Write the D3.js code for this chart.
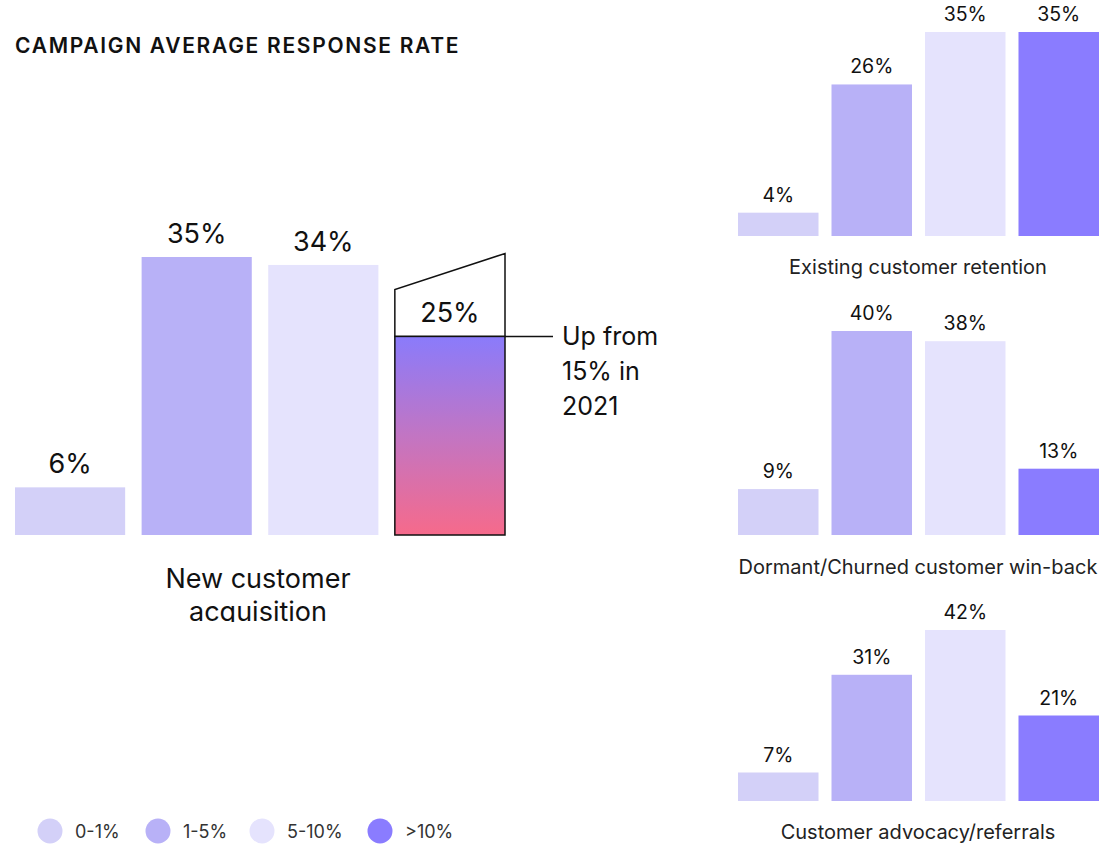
<!DOCTYPE html>
<html>
<head>
<meta charset="utf-8">
<script src="https://cdn.jsdelivr.net/npm/d3@7"></script>
<style>
  html, body { margin: 0; padding: 0; background: #fff; }
  svg { display: block; font-family: Inter, "Noto Sans", sans-serif; }
</style>
</head>
<body>
<svg id="chart" width="1109" height="844"></svg>
<script>
// Response-rate buckets and their colours
const buckets = ["0-1%", "1-5%", "5-10%", ">10%"];
const bucketColors = ["#d3d0f8", "#b8b1f7", "#e5e3fd", "#8a7cff"];

// Share of campaigns in each bucket, per campaign type
const newAcquisition = [6, 35, 34, 25];
const retention = [4, 26, 35, 35];
const winBack = [9, 40, 38, 13];
const advocacy = [7, 31, 42, 21];

const title = "CAMPAIGN AVERAGE RESPONSE RATE";
const mainLabel = ["New customer", "acquisition"];
const noteLines = ["Up from", "15% in", "2021"];
const panelTitles = ["Existing customer retention", "Dormant/Churned customer win-back", "Customer advocacy/referrals"];

const svg = d3.select("#chart");
const ink = "#111";

// Gradient for the highlighted bar
const defs = svg.append("defs");
const grad = defs.append("linearGradient").attr("id", "hot").attr("x1", 0).attr("y1", 0).attr("x2", 0).attr("y2", 1);
grad.append("stop").attr("offset", "0%").attr("stop-color", "#8a7bfb");
grad.append("stop").attr("offset", "50%").attr("stop-color", "#c275c3");
grad.append("stop").attr("offset", "100%").attr("stop-color", "#f66a8b");
defs.append("clipPath").attr("id", "labelClip")
  .append("rect").attr("x", 0).attr("y", 540).attr("width", 600).attr("height", 82);

// Title
svg.append("text")
  .attr("x", 15).attr("y", 53)
  .attr("font-size", 21).attr("font-weight", 600)
  .attr("letter-spacing", 1.7).attr("fill", ink)
  .text(title);

// ---- Main chart: new customer acquisition ----
const xMain = d3.scaleBand().domain(buckets).range([15, 505]).paddingInner(0.13).paddingOuter(0);
const yMain = d3.scaleLinear().domain([0, 35]).range([535, 257]);

const main = svg.append("g");
main.selectAll("rect.bar").data(newAcquisition.slice(0, 3)).join("rect")
  .attr("class", "bar")
  .attr("x", (d, i) => xMain(buckets[i]))
  .attr("y", d => yMain(d))
  .attr("width", xMain.bandwidth())
  .attr("height", d => yMain(0) - yMain(d))
  .attr("fill", (d, i) => bucketColors[i]);

main.selectAll("text.val").data(newAcquisition.slice(0, 3)).join("text")
  .attr("class", "val")
  .attr("x", (d, i) => xMain(buckets[i]) + xMain.bandwidth() / 2)
  .attr("y", d => yMain(d) - 14)
  .attr("text-anchor", "middle")
  .attr("font-size", 27).attr("fill", ink)
  .text(d => d + "%");

// Highlighted >10% bar with the growth callout
const hv = newAcquisition[3];
const hx0 = xMain(buckets[3]), hx1 = hx0 + xMain.bandwidth();
const hTop = yMain(hv);
main.append("path")
  .attr("d", `M${hx0},${hTop} L${hx0},${hTop - 47} L${hx1},${hTop - 83} L${hx1},${hTop} Z`)
  .attr("fill", "#fff").attr("stroke", ink).attr("stroke-width", 1.5);
main.append("rect")
  .attr("x", hx0).attr("y", hTop)
  .attr("width", hx1 - hx0).attr("height", yMain(0) - hTop)
  .attr("fill", "url(#hot)").attr("stroke", ink).attr("stroke-width", 1.5);
main.append("text")
  .attr("x", (hx0 + hx1) / 2).attr("y", hTop - 14)
  .attr("text-anchor", "middle").attr("font-size", 27).attr("fill", ink)
  .text(hv + "%");
main.append("line")
  .attr("x1", hx1).attr("x2", hx1 + 48).attr("y1", hTop).attr("y2", hTop)
  .attr("stroke", ink).attr("stroke-width", 1.5);
main.append("text")
  .attr("x", hx1 + 57).attr("y", hTop + 9)
  .attr("font-size", 25).attr("fill", ink)
  .selectAll("tspan").data(noteLines).join("tspan")
  .attr("x", hx1 + 57).attr("dy", (d, i) => i ? 35 : 0)
  .text(d => d);

main.append("g").attr("clip-path", "url(#labelClip)")
  .append("text")
  .attr("x", 258).attr("y", 588)
  .attr("text-anchor", "middle").attr("font-size", 27).attr("fill", ink)
  .selectAll("tspan").data(mainLabel).join("tspan")
  .attr("x", 258).attr("dy", (d, i) => i ? 33 : 0)
  .text(d => d);

// ---- Small panels ----
const xSmall = d3.scaleBand().domain(buckets).range([738, 1099]).paddingInner(0.139).paddingOuter(0);
const panels = [
  { values: retention, title: panelTitles[0], base: 236, top: 32, titleY: 274 },
  { values: winBack, title: panelTitles[1], base: 535, top: 331, titleY: 574 },
  { values: advocacy, title: panelTitles[2], base: 801, top: 630, titleY: 839 }
];

panels.forEach(p => {
  const y = d3.scaleLinear().domain([0, d3.max(p.values)]).range([p.base, p.top]);
  const g = svg.append("g");
  g.selectAll("rect").data(p.values).join("rect")
    .attr("x", (d, i) => xSmall(buckets[i]))
    .attr("y", d => y(d))
    .attr("width", xSmall.bandwidth())
    .attr("height", d => p.base - y(d))
    .attr("fill", (d, i) => bucketColors[i]);
  g.selectAll("text.val").data(p.values).join("text")
    .attr("class", "val")
    .attr("x", (d, i) => xSmall(buckets[i]) + xSmall.bandwidth() / 2)
    .attr("y", d => y(d) - 11)
    .attr("text-anchor", "middle").attr("font-size", 19.5).attr("fill", ink)
    .text(d => d + "%");
  g.append("text")
    .attr("x", 918).attr("y", p.titleY)
    .attr("text-anchor", "middle").attr("font-size", 20).attr("fill", "#222")
    .text(p.title);
});

// ---- Legend ----
const legendX = [50, 158, 262, 380];
const legend = svg.append("g").selectAll("g").data(buckets).join("g")
  .attr("transform", (d, i) => `translate(${legendX[i]},831)`);
legend.append("circle").attr("r", 12.5).attr("fill", (d, i) => bucketColors[i]);
legend.append("text")
  .attr("x", 25).attr("y", 6.5)
  .attr("font-size", 18).attr("fill", "#333")
  .text(d => d);
</script>
</body>
</html>
